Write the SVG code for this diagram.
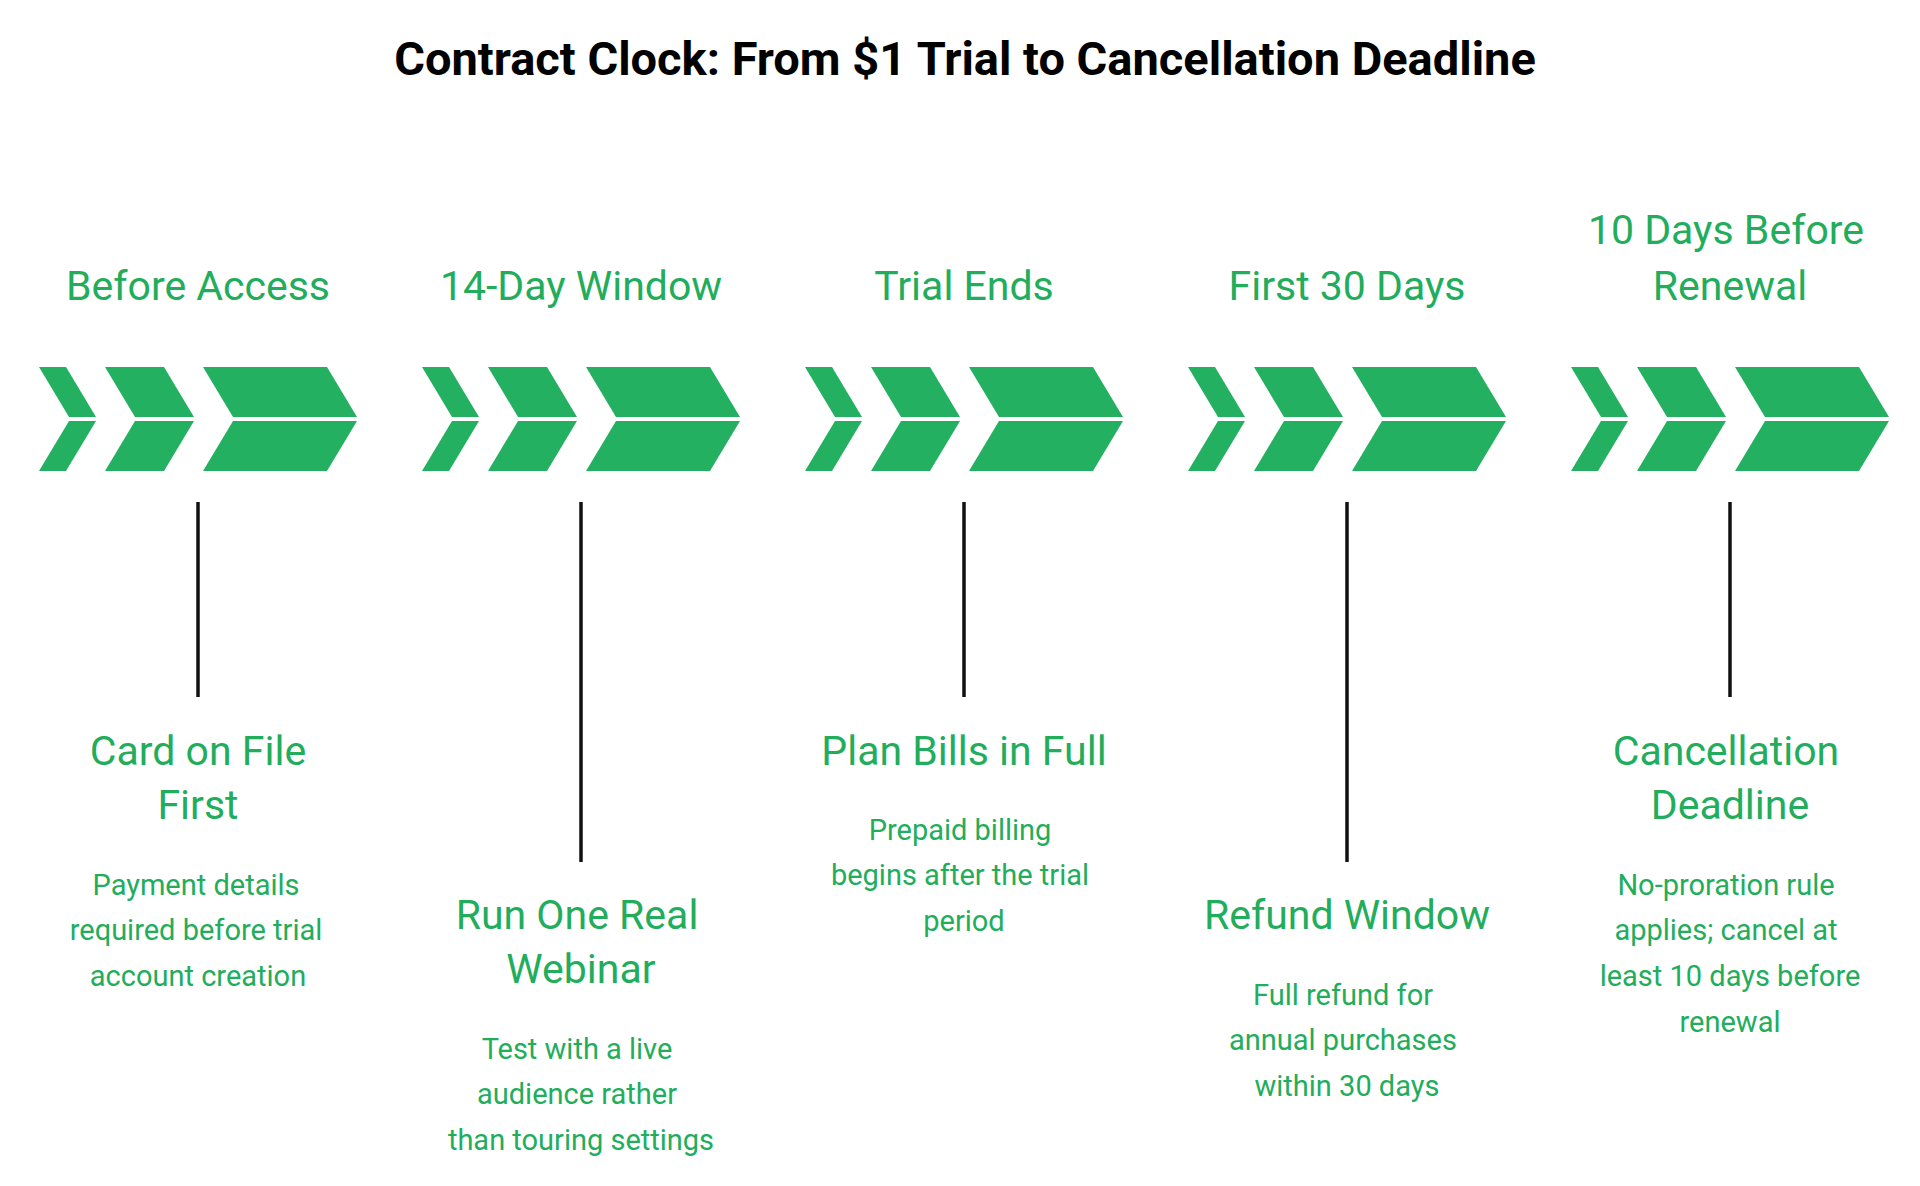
<svg xmlns="http://www.w3.org/2000/svg" xmlns:xlink="http://www.w3.org/1999/xlink" width="1920" height="1186" viewBox="0 0 1920 1186">
<style>
.t{font-family:Roboto,"Liberation Sans",sans-serif;fill:#22ad5c;text-anchor:middle}
.h{font-size:41px}
.d{font-size:29px}
.c{stroke:#111;stroke-width:3.5}
</style>
<defs>
<g id="chev" fill="#23b060">
<polygon points="39,367 66,367 96,417 69,417"/>
<polygon points="69,421 96,421 66,471 39,471"/>
<polygon points="105,367 164,367 194,417 135,417"/>
<polygon points="135,421 194,421 164,471 105,471"/>
<polygon points="203,367 327,367 357,417 233,417"/>
<polygon points="233,421 357,421 327,471 203,471"/>
</g>
</defs>
<rect width="1920" height="1186" fill="#fff"/>
<text x="965" y="75" font-family="Roboto,'Liberation Sans',sans-serif" font-weight="bold" font-size="47" text-anchor="middle" fill="#000">Contract Clock: From $1 Trial to Cancellation Deadline</text>
<g id="connectors">
<line class="c" x1="198" y1="502" x2="198" y2="697"/>
<line class="c" x1="581" y1="502" x2="581" y2="862"/>
<line class="c" x1="964" y1="502" x2="964" y2="697"/>
<line class="c" x1="1347" y1="502" x2="1347" y2="862"/>
<line class="c" x1="1730" y1="502" x2="1730" y2="697"/>
</g>
<g id="step1">
<use xlink:href="#chev"/>
<text class="t h" x="198" y="300">Before Access</text>
<text class="t h" x="198" y="765">Card on File</text>
<text class="t h" x="198" y="819">First</text>
<text class="t d" x="196" y="895">Payment details</text>
<text class="t d" x="196" y="940">required before trial</text>
<text class="t d" x="198" y="986">account creation</text>
</g>
<g id="step2">
<use xlink:href="#chev" x="383"/>
<text class="t h" x="581" y="300">14-Day Window</text>
<text class="t h" x="577" y="929">Run One Real</text>
<text class="t h" x="581" y="983">Webinar</text>
<text class="t d" x="577" y="1059">Test with a live</text>
<text class="t d" x="577" y="1104">audience rather</text>
<text class="t d" x="581" y="1150">than touring settings</text>
</g>
<g id="step3">
<use xlink:href="#chev" x="766"/>
<text class="t h" x="964" y="300">Trial Ends</text>
<text class="t h" x="964" y="765">Plan Bills in Full</text>
<text class="t d" x="960" y="840">Prepaid billing</text>
<text class="t d" x="960" y="885">begins after the trial</text>
<text class="t d" x="964" y="931">period</text>
</g>
<g id="step4">
<use xlink:href="#chev" x="1149"/>
<text class="t h" x="1347" y="300">First 30 Days</text>
<text class="t h" x="1347" y="929">Refund Window</text>
<text class="t d" x="1343" y="1005">Full refund for</text>
<text class="t d" x="1343" y="1050">annual purchases</text>
<text class="t d" x="1347" y="1096">within 30 days</text>
</g>
<g id="step5">
<use xlink:href="#chev" x="1532"/>
<text class="t h" x="1726" y="244">10 Days Before</text>
<text class="t h" x="1730" y="300">Renewal</text>
<text class="t h" x="1726" y="765">Cancellation</text>
<text class="t h" x="1730" y="819">Deadline</text>
<text class="t d" x="1726" y="895">No-proration rule</text>
<text class="t d" x="1726" y="940">applies; cancel at</text>
<text class="t d" x="1730" y="986">least 10 days before</text>
<text class="t d" x="1730" y="1032">renewal</text>
</g>
</svg>
